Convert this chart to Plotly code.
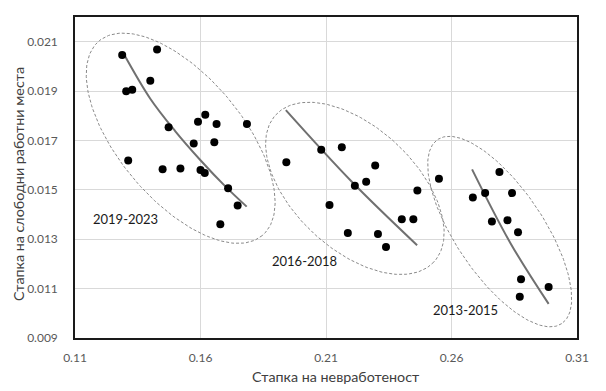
import numpy as np
import plotly.graph_objects as go

# ---- data ----
u_2019_2023 = [0.1288, 0.1427, 0.1304, 0.1328, 0.1400, 0.1473, 0.1590, 0.1619, 0.1664, 0.1785,
               0.1573, 0.1655, 0.1312, 0.1449, 0.1520, 0.1600, 0.1617, 0.1710, 0.1748, 0.1679]
v_2019_2023 = [0.02046, 0.02068, 0.01899, 0.01905, 0.01942, 0.01753, 0.01776, 0.01804, 0.01767, 0.01767,
               0.01688, 0.01693, 0.01619, 0.01583, 0.01586, 0.01580, 0.01568, 0.01506, 0.01437, 0.01361]

u_2016_2018 = [0.1942, 0.2081, 0.2163, 0.2296, 0.2260, 0.2215, 0.2464, 0.2114, 0.2402, 0.2448,
               0.2187, 0.2307, 0.2339]
v_2016_2018 = [0.01612, 0.01662, 0.01673, 0.01599, 0.01533, 0.01517, 0.01497, 0.01439, 0.01381, 0.01381,
               0.01325, 0.01321, 0.01269]

u_2013_2015 = [0.2550, 0.2685, 0.2734, 0.2791, 0.2841, 0.2761, 0.2823, 0.2865, 0.2877, 0.2987, 0.2872]
v_2013_2015 = [0.01545, 0.01469, 0.01487, 0.01572, 0.01487, 0.01372, 0.01377, 0.01328, 0.01138, 0.01107, 0.01067]

# trend curves
trend_u_1 = [0.1294, 0.1400, 0.1499, 0.1599, 0.1698, 0.1784]
trend_v_1 = [0.02051, 0.01869, 0.01738, 0.01621, 0.01515, 0.01432]
trend_u_2 = [0.1940, 0.2201, 0.2463]
trend_v_2 = [0.01823, 0.01535, 0.01276]
trend_u_3 = [0.2682, 0.2835, 0.2987]
trend_v_3 = [0.01583, 0.01284, 0.01038]

period_labels = ["2019-2023", "2016-2018", "2013-2015"]
label_u = [0.1300, 0.2016, 0.2656]
label_v = [0.0138, 0.01213, 0.01013]

x_title = "Стапка на невработеност"
y_title = "Стапка на слободни работни места"

# ellipse outlines: centre (data), semi-axes (px), tilt (deg)
ell_cu = [0.1521, 0.2215, 0.2792]
ell_cv = [0.01709, 0.01506, 0.01331]
ell_a = [127, 108, 111]
ell_b = [62, 61, 44]
ell_ang = [50, 43, 56]

x_ticks = [0.11, 0.16, 0.21, 0.26, 0.31]
y_ticks = [0.009, 0.011, 0.013, 0.015, 0.017, 0.019, 0.021]
x_range = [0.11, 0.31]
y_range = [0.009, 0.022]

W, H = 606, 391
M = dict(l=75, r=29, t=17, b=53)
pw = W - M["l"] - M["r"]
ph = H - M["t"] - M["b"]
sx = pw / (x_range[1] - x_range[0])
sy = ph / (y_range[1] - y_range[0])

fig = go.Figure()

dash_col = "#8a8a8a"
for cu, cv, a, b, ang in zip(ell_cu, ell_cv, ell_a, ell_b, ell_ang):
    t = np.linspace(0, 2 * np.pi, 200)
    th = np.radians(ang)
    dx = a * np.cos(t) * np.cos(th) - b * np.sin(t) * np.sin(th)
    dy = a * np.cos(t) * np.sin(th) + b * np.sin(t) * np.cos(th)
    fig.add_trace(go.Scatter(x=cu + dx / sx, y=cv - dy / sy, mode="lines",
                             line=dict(color=dash_col, width=1, dash="3px,2px"),
                             hoverinfo="skip", showlegend=False))

for tu, tv in [(trend_u_1, trend_v_1), (trend_u_2, trend_v_2), (trend_u_3, trend_v_3)]:
    fig.add_trace(go.Scatter(x=tu, y=tv, mode="lines", line=dict(color="#707070", width=2, shape="spline"),
                             showlegend=False, hoverinfo="skip"))

for u, v in [(u_2019_2023, v_2019_2023), (u_2016_2018, v_2016_2018), (u_2013_2015, v_2013_2015)]:
    fig.add_trace(go.Scatter(x=u, y=v, mode="markers", marker=dict(color="black", size=8),
                             showlegend=False))

for txt, lu, lv in zip(period_labels, label_u, label_v):
    fig.add_annotation(x=lu, y=lv, text=txt, showarrow=False,
                       font=dict(family="Lato", size=13, color="#1a1a1a"))

title_font = dict(family="Lato", size=14.3, color="#404040")
# axis titles placed as in the reference (slightly off-centre)
fig.add_annotation(xref="paper", yref="paper", x=(336 - M["l"]) / pw, y=(H - M["b"] - 377) / ph,
                   text=x_title, showarrow=False, font=title_font, xanchor="center", yanchor="middle")
fig.add_annotation(xref="paper", yref="paper", x=(19 - M["l"]) / pw, y=(H - M["b"] - 184) / ph,
                   text=y_title, showarrow=False, font=title_font, textangle=-90,
                   xanchor="center", yanchor="middle")

font_col = "#595959"
fig.update_layout(
    width=W, height=H, margin=M,
    paper_bgcolor="white", plot_bgcolor="white",
    font=dict(family="Lato", size=12, color=font_col),
    xaxis=dict(range=x_range, tickvals=x_ticks, ticktext=[f"{v:.2f}" for v in x_ticks],
               showgrid=True, gridcolor="#d9d9d9", gridwidth=1, zeroline=False,
               showline=True, linecolor="#1a1a1a", linewidth=1.5, mirror=True,
               ticks="", ticklabelstandoff=8, automargin=False),
    yaxis=dict(range=y_range, tickvals=y_ticks, ticktext=[f"{v:.3f}" for v in y_ticks],
               showgrid=True, gridcolor="#d9d9d9", gridwidth=1, zeroline=False,
               showline=True, linecolor="#1a1a1a", linewidth=1.5, mirror=True,
               ticks="", ticklabelstandoff=13, automargin=False),
)

fig.write_html("out.html", config={"displayModeBar": False},
               post_script="document.body.style.margin='0';document.body.style.overflow='hidden';")
